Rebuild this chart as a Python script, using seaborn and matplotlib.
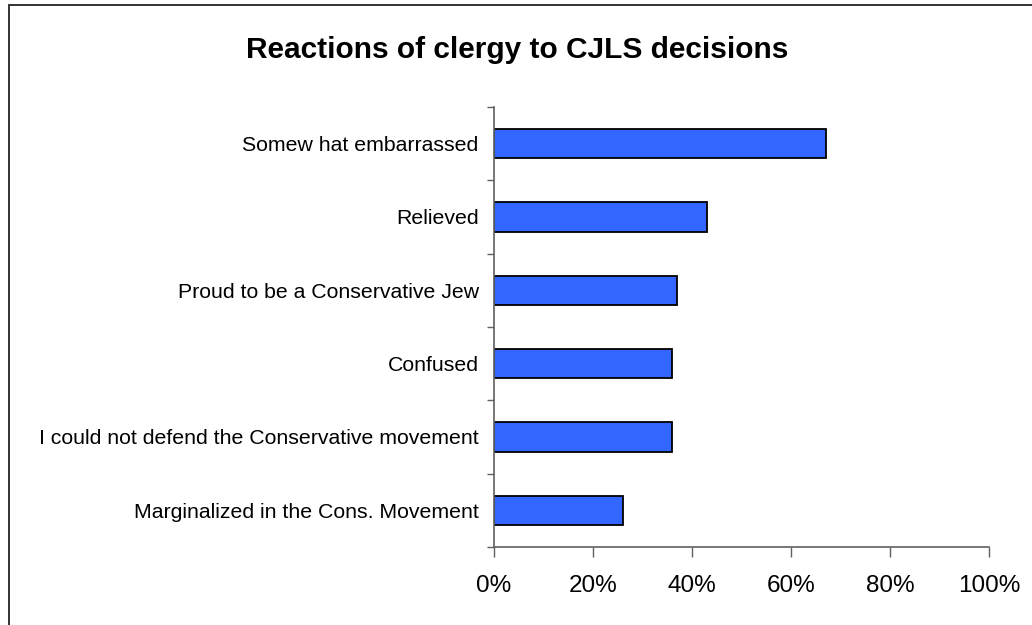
import matplotlib
matplotlib.use("Agg")
import matplotlib.pyplot as plt
import seaborn as sns
import pandas as pd
from matplotlib.patches import Rectangle
from matplotlib.ticker import FixedLocator, FuncFormatter

categories = [
    "Somew hat embarrassed",
    "Relieved",
    "Proud to be a Conservative Jew",
    "Confused",
    "I could not defend the Conservative movement",
    "Marginalized in the Cons. Movement",
]
values = [67, 43, 37, 36, 36, 26]
x_ticks = [0, 20, 40, 60, 80, 100]
title = "Reactions of clergy to CJLS decisions"

sns.set_theme(style="white")
plt.rcParams["font.family"] = ["Liberation Sans", "DejaVu Sans"]
plt.rcParams["text.color"] = "black"
plt.rcParams["xtick.color"] = "black"
plt.rcParams["ytick.color"] = "black"

df = pd.DataFrame({"category": categories, "value": values})

fig = plt.figure(figsize=(10.32, 6.25), dpi=100)
ax = fig.add_axes([494 / 1032, 1 - 547 / 625, (989 - 494) / 1032, (547 - 107) / 625])

sns.barplot(data=df, x="value", y="category", orient="h", color="#3366FF",
            saturation=1, edgecolor="black", linewidth=1.3, width=0.4, ax=ax)

ax.set_xlim(0, 100)
ax.set_ylim(len(categories) - 0.5, -0.5)
ax.set_xlabel("")
ax.set_ylabel("")
ax.xaxis.set_major_locator(FixedLocator(x_ticks))
ax.xaxis.set_major_formatter(FuncFormatter(lambda v, p: f"{int(v)}%"))
ax.tick_params(axis="x", direction="out", length=7, width=1, color="#606060",
               labelsize=17.5, labelcolor="black", pad=13.5, bottom=True)
ax.tick_params(axis="y", which="major", length=0, labelsize=15.3,
               labelcolor="black", pad=11)
ax.set_yticks([i - 0.5 for i in range(len(categories) + 1)], minor=True)
ax.tick_params(axis="y", which="minor", direction="out", length=5, width=1,
               color="#606060", left=True)
for s in ["top", "right"]:
    ax.spines[s].set_visible(False)
for s in ["left", "bottom"]:
    ax.spines[s].set_color("#606060")
    ax.spines[s].set_linewidth(1.2)

fig.text(517 / 1032, 1 - 58 / 625, title, ha="center", va="baseline",
         fontsize=21.5, fontweight="bold", color="black")

fig.patches.append(Rectangle((8.5 / 1032, -0.1), 1.2, 1 + 0.1 - 5.5 / 625,
                             transform=fig.transFigure, fill=False,
                             edgecolor="#333333", linewidth=1.4))

fig.savefig("out.png", dpi=100, facecolor="white")
